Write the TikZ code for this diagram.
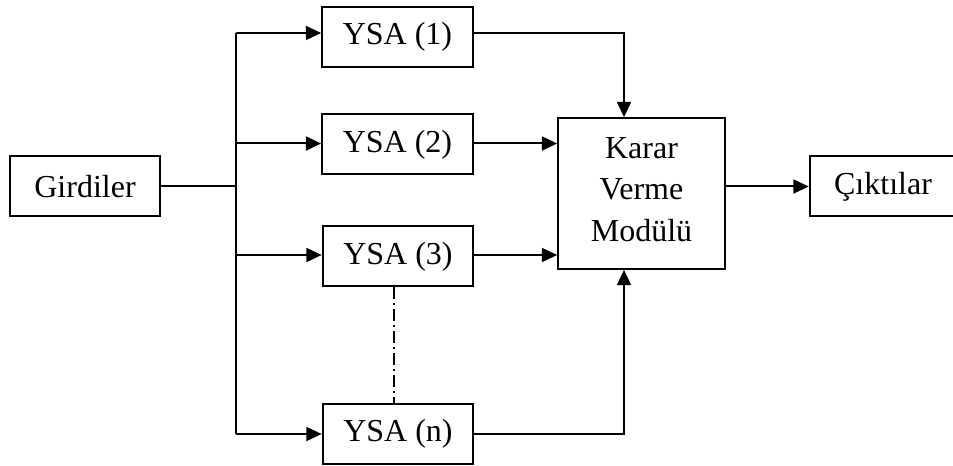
\documentclass[tikz,border=0pt]{standalone}
\usepackage{fontspec}
\setmainfont{Liberation Serif}
\usetikzlibrary{arrows.meta}

\begin{document}
\begin{tikzpicture}[x=0.75pt,y=-0.75pt,
	blok/.style={draw,line width=1.5pt,inner sep=0pt,minimum width=113pt,minimum height=45pt,font=\fontsize{24}{31}\selectfont},
	ok/.style={line width=1.5pt,-{Triangle[length=11.5pt,width=10.5pt]}},
	hat/.style={line width=1.5pt}]
			%%%%% START %%%%%
			\def\trunk{236}
			\def\kx{624}
			\def\dx{394}
			\useasboundingbox (0,0) rectangle (953,466);

			\node[blok] (girdiler) at (85,186.5) {Girdiler};
			\node[blok] (ysa1) at (397.5,37) {YSA (1)};
			\node[blok] (ysa2) at (397.5,144.5) {YSA (2)};
			\node[blok] (ysa3) at (398,256.5) {YSA (3)};
			\node[blok] (ysan) at (398,434) {YSA (n)};
			\node[blok,minimum width=125pt,minimum height=113pt,align=center] (karar) at (641.5,193.5) {Karar\\Verme\\Modül\"u\rule[-6pt]{0pt}{6pt}};
			\node[blok,minimum width=110pt] (cikti) at (883,186.5) {Çıktılar};

			\coordinate (t1) at (\trunk,33);
			\coordinate (t2) at (\trunk,143.5);
			\coordinate (t3) at (\trunk,255);
			\coordinate (tn) at (\trunk,434);
			\coordinate (k) at (\kx,0);
			\coordinate (d) at (\dx,0);

			\draw[hat] (girdiler.east) -- (girdiler.east -| t1);
			\draw[hat] (t1) -- (tn);
			\draw[ok] (t1) -- (ysa1.west |- t1);
			\draw[ok] (t2) -- (ysa2.west |- t2);
			\draw[ok] (t3) -- (ysa3.west |- t3);
			\draw[ok] (tn) -- (ysan.west);

			\draw[ok] (ysa1.east |- t1) -| (k |- karar.north);
			\draw[ok] (ysa2.east |- t2) -- (karar.west |- t2);
			\draw[ok] (ysa3.east |- t3) -- (karar.west |- t3);
			\draw[ok] (ysan.east) -| (k |- karar.south);
			\draw[ok] (karar.east |- cikti) -- (cikti.west);

			\draw[line width=1.1pt,dash pattern=on 9pt off 3pt on 1.5pt off 3pt] (d |- ysa3.south) -- (d |- ysan.north);
			%%%%% END %%%%%
\end{tikzpicture}
\end{document}
